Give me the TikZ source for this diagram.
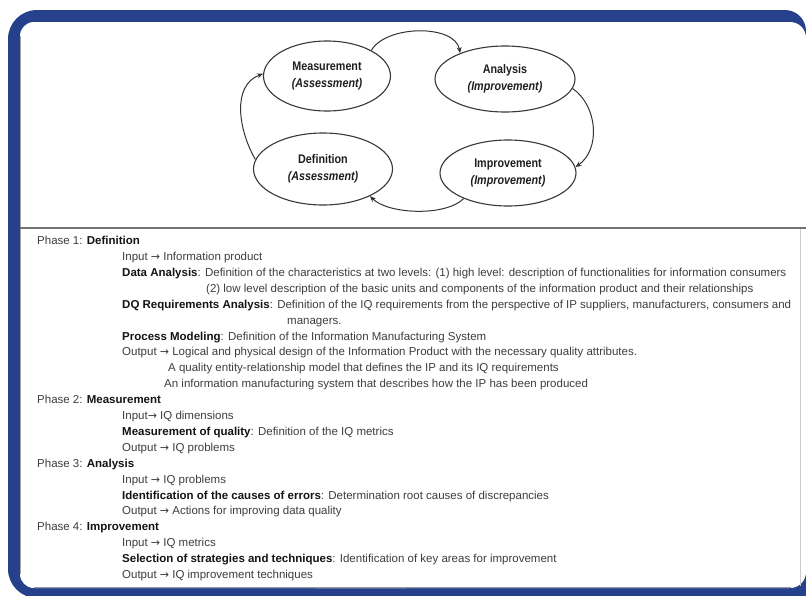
\documentclass[tikz,border=0pt]{standalone}
\usepackage{fontspec}
\setmainfont{Liberation Sans}
\newfontfamily\narrowsans[FakeStretch=0.86]{Liberation Sans}
\newfontfamily\symfont{DejaVu Sans}
\usetikzlibrary{shapes.geometric,arrows.meta}
\definecolor{frameblue}{RGB}{39,64,140}
\definecolor{bodytext}{RGB}{62,62,62}
\definecolor{headtext}{RGB}{20,20,20}
\tikzset{
  phase/.style={ellipse, draw=black!78, line width=1.1pt, fill=white, inner sep=0pt,
    align=center, text=black!88, font=\narrowsans\bfseries\fontsize{12.5}{17}\selectfont},
  cyclearrow/.style={draw=black!80, line width=1pt, -{Stealth[length=6pt,width=5pt]}},
  txt/.style={anchor=base west, inner sep=0pt, text=bodytext, font=\fontsize{11.5}{13}\selectfont},
}
\newcommand\hd[1]{\textcolor{headtext}{\bfseries #1}}
\newcommand\ar{{\symfont\fontsize{11}{12}\selectfont →}}
\begin{document}
\begin{tikzpicture}[x=1pt,y=-1pt]
\useasboundingbox (0,0) rectangle (806,595);
\clip (0,0) rectangle (806,595);
% blue frame
\fill[frameblue, rounded corners=29pt] (8,10) rectangle (420,598);
\fill[frameblue, rounded corners=21pt] (300,10) rectangle (806,650);
% white panel
\fill[white, rounded corners=14pt] (20,22) rectangle (420,588);
\fill[white, rounded corners=16pt] (300,22) rectangle (806,588);
\draw[black!35, line width=0.8pt] (20.6,36) -- (20.6,574);
\draw[black!40, line width=1.2pt] (34,587.2) -- (791,587.2);
% separator under the cycle
\draw[black!55, line width=1.3pt] (20,228) -- (806,228);
\draw[black!20, line width=0.8pt] (800,229) -- (800,586);

% quality cycle
\node[phase, minimum width=127pt, minimum height=70pt] (meas) at (327,76) {Measurement\\\itshape(Assessment)};
\node[phase, minimum width=140pt, minimum height=66pt] (anal) at (505,79) {Analysis\\\itshape(Improvement)};
\node[phase, minimum width=139pt, minimum height=72pt] (defn) at (323,169) {Definition\\\itshape(Assessment)};
\node[phase, minimum width=136pt, minimum height=66pt] (impr) at (508,173) {Improvement\\\itshape(Improvement)};

\draw[cyclearrow] (meas.30) to[out=60,in=100,looseness=0.85] (anal.150);
\draw[cyclearrow] (anal.-8) to[out=-35,in=35] (impr.5);
\draw[cyclearrow] (impr.210) to[out=-135,in=-45,looseness=0.7] (defn.-30);
\draw[cyclearrow] (defn.172) to[out=120,in=200] (meas.178);

% phase descriptions
\node[txt] (p1)  at (37,244.6) {Phase 1: \hd{Definition}};
\node[txt] (p1a) at (122,260.5) {Input \ar{} Information product};
\node[txt] (p1b) at (122,276.4) {\hd{Data Analysis}: Definition of the characteristics at two levels: (1) high level: description of functionalities for information consumers};
\node[txt] (p1c) at (206,292.3) {(2) low level description of the basic units and components of the information product and their relationships};
\node[txt] (p1d) at (122,308.2) {\hd{DQ Requirements Analysis}: Definition of the IQ requirements from the perspective of IP suppliers, manufacturers, consumers and};
\node[txt] (p1e) at (287,324.1) {managers.};
\node[txt] (p1f) at (122,340.0) {\hd{Process Modeling}: Definition of the Information Manufacturing System};
\node[txt] (p1g) at (122,355.9) {Output \ar{} Logical and physical design of the Information Product with the necessary quality attributes.};
\node[txt] (p1h) at (168,371.8) {A quality entity-relationship model that defines the IP and its IQ requirements};
\node[txt] (p1i) at (164,387.7) {An information manufacturing system that describes how the IP has been produced};

\node[txt] (p2)  at (37,403.6) {Phase 2: \hd{Measurement}};
\node[txt] (p2a) at (122,419.5) {Input\ar{} IQ dimensions};
\node[txt] (p2b) at (122,435.4) {\hd{Measurement of quality}: Definition of the IQ metrics};
\node[txt] (p2c) at (122,451.3) {Output \ar{} IQ problems};

\node[txt] (p3)  at (37,467.2) {Phase 3: \hd{Analysis}};
\node[txt] (p3a) at (122,483.1) {Input \ar{} IQ problems};
\node[txt] (p3b) at (122,499.0) {\hd{Identification of the causes of errors}: Determination root causes of discrepancies};
\node[txt] (p3c) at (122,514.9) {Output \ar{} Actions for improving data quality};

\node[txt] (p4)  at (37,530.8) {Phase 4: \hd{Improvement}};
\node[txt] (p4a) at (122,546.7) {Input \ar{} IQ metrics};
\node[txt] (p4b) at (122,562.6) {\hd{Selection of strategies and techniques}: Identification of key areas for improvement};
\node[txt] (p4c) at (122,578.5) {Output \ar{} IQ improvement techniques};
\end{tikzpicture}
\end{document}
